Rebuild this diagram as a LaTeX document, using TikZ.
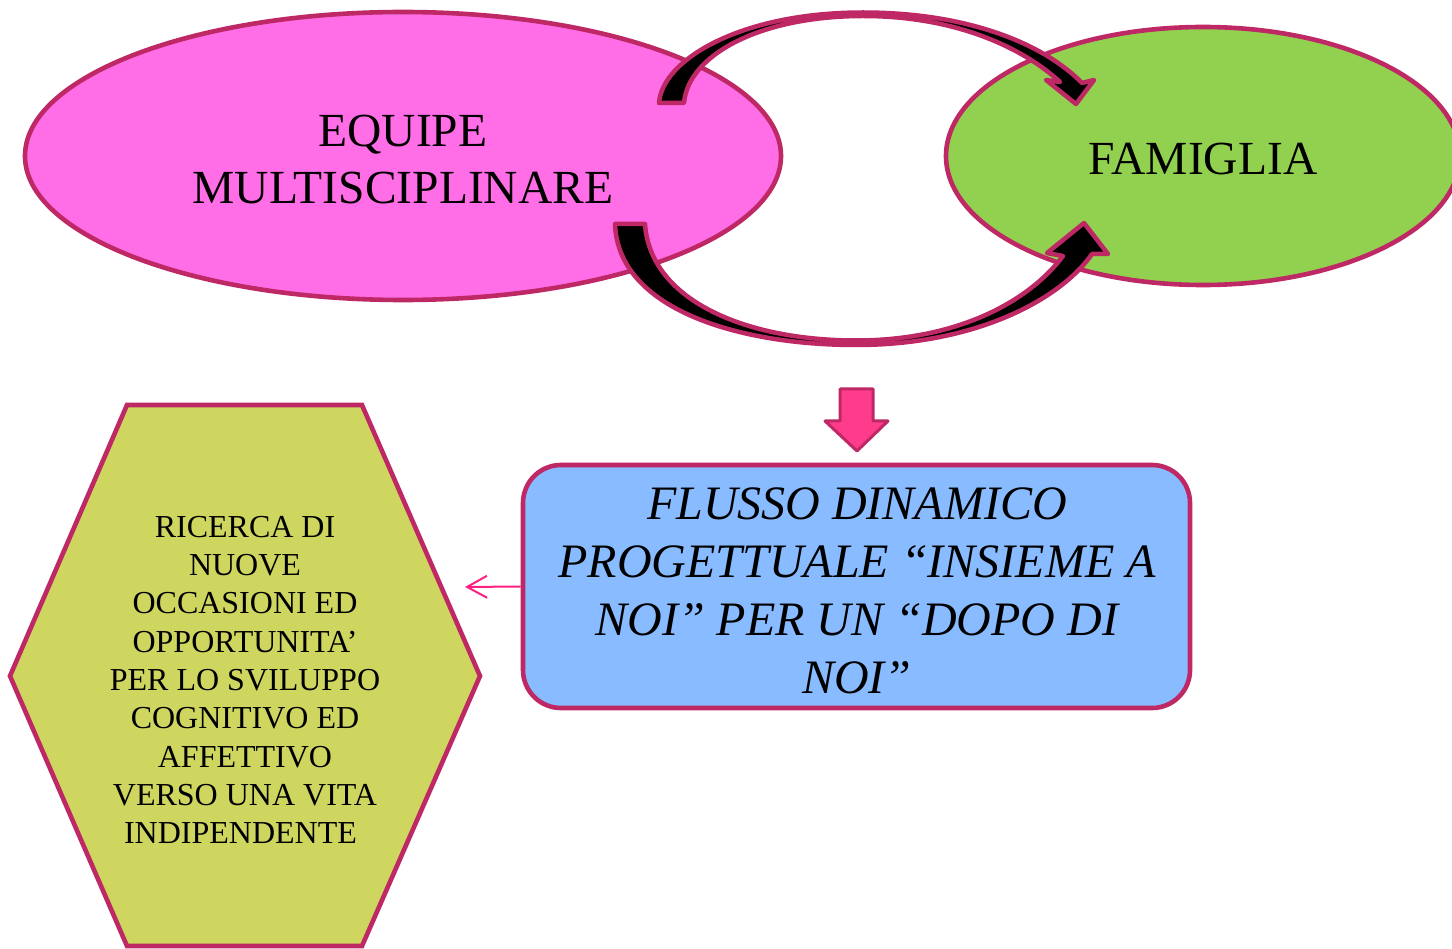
\documentclass[tikz,border=0pt]{standalone}
\usepackage{fontspec}
\setmainfont{Liberation Serif}
\usetikzlibrary{shapes.geometric,arrows.meta}
\definecolor{bord}{HTML}{BE2864}
\definecolor{pinkfill}{HTML}{FF6EE6}
\definecolor{greenfill}{HTML}{92D050}
\definecolor{bluefill}{HTML}{88BBFF}
\definecolor{hexfill}{HTML}{CED660}
\definecolor{downfill}{HTML}{FF3C8C}
\definecolor{thinarrow}{HTML}{FF1E82}
\begin{document}
\begin{tikzpicture}[x=1pt,y=-1pt,
  outl/.style={draw=bord,line width=4.6pt},
  bigtext/.style={font=\fontsize{47.5}{57}\selectfont,align=center,inner sep=0pt},
  boxtext/.style={font=\fontsize{48}{58}\selectfont\itshape,align=center,inner sep=0pt},
  hextext/.style={font=\fontsize{32}{38.3}\selectfont,align=center,inner sep=0pt},
  blockarrow/.style={fill=black,draw=bord,line width=4.5pt,line join=round}]
\useasboundingbox (0,0) rectangle (1452,949);
% ellipses
\node[ellipse,outl,fill=pinkfill,minimum width=756pt,minimum height=288pt,inner sep=0pt] (equipe) at (403,156) {};
\node[bigtext] (equipelbl) at (403,160) {EQUIPE\\MULTISCIPLINARE};
\node[ellipse,outl,fill=greenfill,minimum width=514pt,minimum height=258pt,inner sep=0pt] (famiglia) at (1203,156) {};
\node[bigtext] (famiglialbl) at (1203,159) {FAMIGLIA};
% top curved arrow
\path[blockarrow]
  (659,103) .. controls (662,60) and (740,12.5) .. (863,12.5)
  .. controls (970,12.5) and (1045,45) .. (1082,83)
  -- (1094,80) -- (1076,104) -- (1046,80) -- (1060,82)
  .. controls (1030,54) and (965,16) .. (863,16)
  .. controls (760,16) and (688,55) .. (684,103) -- cycle;
% bottom curved arrow
\path[blockarrow]
  (615,224) .. controls (618,310) and (740,345) .. (856,345)
  .. controls (975,345) and (1060,300) .. (1092,254)
  -- (1108,254) -- (1084,223) -- (1047,253) -- (1063,256)
  .. controls (1030,300) and (960,340.5) .. (856,340.5)
  .. controls (745,340.5) and (650,300) .. (645,224) -- cycle;
% down arrow
\path[fill=downfill,draw=bord,line width=3pt,line join=round]
  (840,389) -- (873,389) -- (873,421) -- (888,421) -- (857,451) -- (825,421) -- (840,421) -- cycle;
% blue box
\node[rectangle,rounded corners=38pt,outl,fill=bluefill,minimum width=667pt,minimum height=243pt,inner sep=0pt] (flusso) at (856.5,586.5) {};
\node[boxtext] (flussolbl) at (857,591) {FLUSSO DINAMICO\\PROGETTUALE “INSIEME A\\NOI” PER UN “DOPO DI\\NOI”};
% hexagon
\path[outl,fill=hexfill,line join=miter]
  (127,405) -- (362,405) -- (480,676) -- (362,946) -- (127,946) -- (10,676) -- cycle;
\node[hextext] (ricerca) at (245,680) {RICERCA DI\\NUOVE\\OCCASIONI ED\\OPPORTUNITA’\\PER LO SVILUPPO\\COGNITIVO ED\\AFFETTIVO\\VERSO UNA VITA\\INDIPENDENTE\hspace*{9pt}};
% thin arrow
\coordinate (hexin) at (465,587);
\draw[thinarrow,line width=2pt,-{Straight Barb[length=20pt,width=22pt]}] (flusso.west) -- (hexin);
\end{tikzpicture}
\end{document}
